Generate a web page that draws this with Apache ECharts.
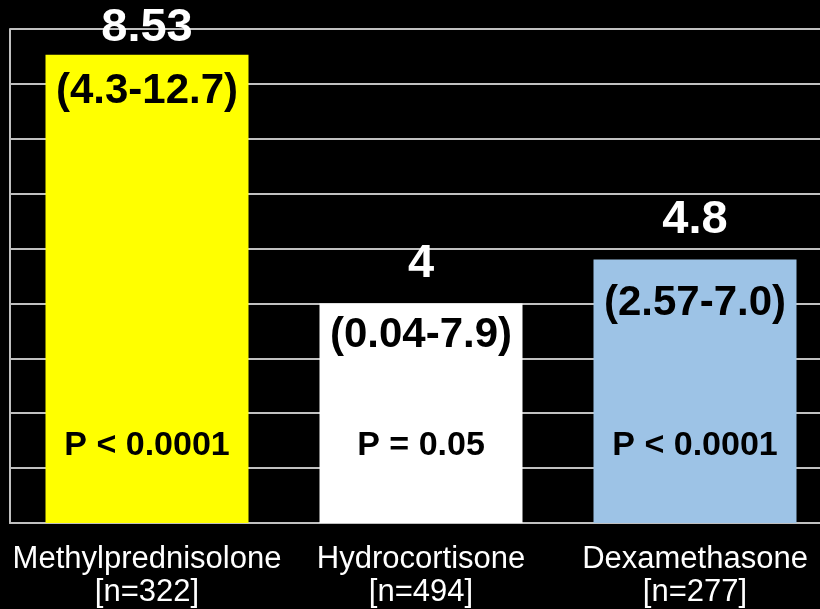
<!DOCTYPE html>
<html>
<head>
<meta charset="utf-8">
<script src="https://cdn.jsdelivr.net/npm/echarts@6/dist/echarts.min.js"></script>
<style>
  html, body { margin: 0; padding: 0; background: #000; overflow: hidden; }
  /* wider than the window: the plot runs past the right edge */
  #main { width: 832px; height: 609px; }
</style>
</head>
<body>
<div id="main"></div>
<script>
// data
const drugs = ["Methylprednisolone", "Hydrocortisone", "Dexamethasone"];
const patients = [322, 494, 277];
const ratios = [8.53, 4, 4.8];
const ranges = ["(4.3-12.7)", "(0.04-7.9)", "(2.57-7.0)"];
const pValues = ["P < 0.0001", "P = 0.05", "P < 0.0001"];

// styling
const barColors = ["#ffff00", "#ffffff", "#9dc3e6"];
const topGap = [4, 16, 16];
const rangeGap = [16, 11, 23];
const font = "'Liberation Sans', Arial, sans-serif";

const categories = drugs.map((d, i) => d + "\n[n=" + patients[i] + "]");

const chart = echarts.init(document.getElementById("main"));

const option = {
  backgroundColor: "#000",
  animation: false,
  grid: { left: 10, right: 0, top: 29, bottom: 86 },
  xAxis: {
    type: "category",
    data: categories,
    axisLine: { show: true, lineStyle: { color: "#c0c0c0", width: 2 } },
    axisTick: { show: false },
    axisLabel: {
      color: "#fff",
      fontFamily: font,
      fontSize: 31,
      lineHeight: 33,
      margin: 20,
      interval: 0
    }
  },
  yAxis: {
    type: "value",
    min: 0,
    max: 9,
    interval: 1,
    axisLine: { show: true, lineStyle: { color: "#c0c0c0", width: 2 } },
    axisTick: { show: false },
    axisLabel: { show: false },
    splitLine: { show: true, lineStyle: { color: "#c0c0c0", width: 2 } }
  },
  series: [
    {
      // the bars with the odds ratio on top
      type: "bar",
      barWidth: 203,
      barGap: "-100%",
      data: ratios.map((v, i) => ({
        value: v,
        itemStyle: { color: barColors[i] },
        label: { distance: topGap[i] }
      })),
      label: {
        show: true,
        position: "top",
        color: "#fff",
        fontFamily: font,
        fontWeight: "bold",
        fontSize: 47,
        lineHeight: 46,
        formatter: p => String(p.value)
      },
      z: 2
    },
    {
      // confidence interval inside the top of each bar
      type: "bar",
      barWidth: 203,
      barGap: "-100%",
      data: ratios.map((v, i) => ({
        value: v,
        label: { distance: rangeGap[i] }
      })),
      itemStyle: { color: "transparent" },
      label: {
        show: true,
        position: "insideTop",
        color: "#000",
        fontFamily: font,
        fontWeight: "bold",
        fontSize: 42,
        lineHeight: 42,
        formatter: p => ranges[p.dataIndex]
      },
      z: 3
    },
    {
      // p value near the base of each bar
      type: "bar",
      barWidth: 203,
      barGap: "-100%",
      data: ratios,
      itemStyle: { color: "transparent" },
      label: {
        show: true,
        position: "insideBottom",
        distance: 60,
        color: "#000",
        fontFamily: font,
        fontWeight: "bold",
        fontSize: 34,
        lineHeight: 34,
        formatter: p => pValues[p.dataIndex]
      },
      z: 3
    }
  ]
};

chart.setOption(option);
</script>
</body>
</html>
